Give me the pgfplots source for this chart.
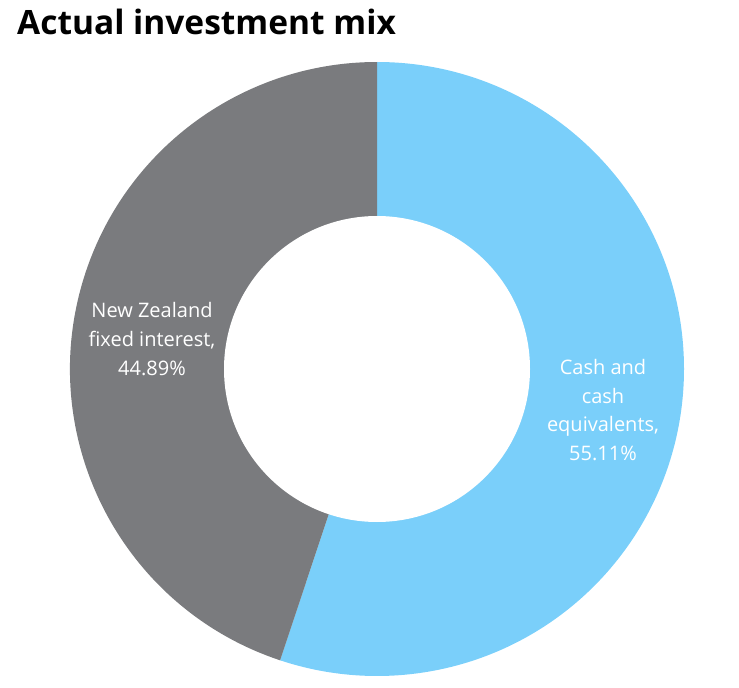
\documentclass[border=0pt]{standalone}
\usepackage{pgfplots}
\pgfplotsset{compat=1.18}
\usepackage{fontspec}
\setmainfont{Open Sans}
\definecolor{cashblue}{HTML}{7ACFFA}
\definecolor{nzgray}{HTML}{7A7B7E}
% data (percent)
\def\cashval{55.11}
\def\nzval{44.89}
\begin{document}
\begin{tikzpicture}
\begin{axis}[hide axis, x=1pt, y=1pt, xmin=0, xmax=739, ymin=0, ymax=685,
  scale only axis, clip=false]
\path (axis cs:0,0) rectangle (axis cs:739,685);
\pgfmathsetmacro{\endang}{90-3.6*\cashval}
\pgfmathsetmacro{\nzend}{\endang-3.6*\nzval}
\fill[cashblue] (axis cs:377,316) -- ++(90:307pt) arc[start angle=90, end angle=\endang, radius=307pt] -- cycle;
\fill[nzgray] (axis cs:377,316) -- ++(\endang:307pt) arc[start angle=\endang, end angle=\nzend, radius=307pt] -- cycle;
\fill[white] (axis cs:377,316) circle[radius=153pt];
\node[anchor=north west, inner sep=0pt, font=\fontsize{33.5}{38}\selectfont\bfseries] at (axis cs:17,676) {Actual investment mix};
\node[align=center, text=white, font=\fontsize{20}{29}\selectfont] at (axis cs:152,346) {New Zealand\\fixed interest,\\\nzval\%};
\node[align=center, text=white, font=\fontsize{20}{28.5}\selectfont] at (axis cs:603,275) {Cash and\\cash\\equivalents,\\\cashval\%};
\end{axis}
\end{tikzpicture}
\end{document}
